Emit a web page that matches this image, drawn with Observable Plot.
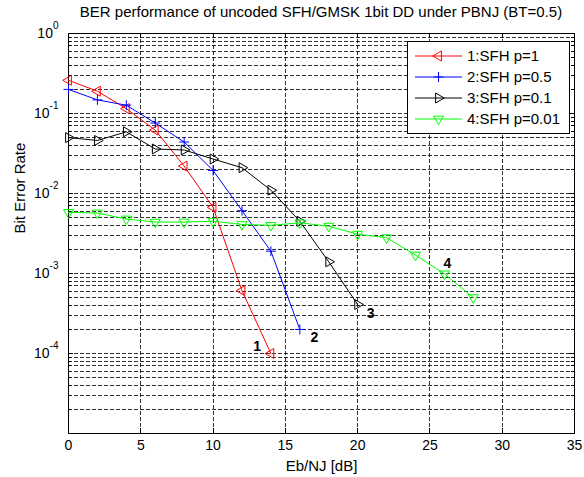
<!DOCTYPE html>
<html>
<head>
<meta charset="utf-8">
<script src="https://cdn.jsdelivr.net/npm/d3@7"></script>
<script src="https://cdn.jsdelivr.net/npm/@observablehq/plot@0.6"></script>
<style>
  html, body { margin: 0; padding: 0; background: #fff; }
  body { width: 584px; height: 477px; overflow: hidden; font-family: "Liberation Sans", Arial, sans-serif; }
  #title { width: 584px; height: 22px; line-height: 24px; font-size: 15px; color: #000; white-space: nowrap; }
  #title span { position: relative; left: 321px; transform: translateX(-50%); display: inline-block; }
  svg { display: block; }
</style>
</head>
<body>
<div id="title"><span>BER performance of uncoded SFH/GMSK 1bit DD under PBNJ (BT=0.5)</span></div>
<div id="chart"></div>
<script>
// ---- data ----
const xLabel = "Eb/NJ [dB]";
const yLabel = "Bit Error Rate";
const xTicks = [0, 5, 10, 15, 20, 25, 30, 35];
const yTickExponents = [0, -1, -2, -3, -4];

const seriesNames = ["1:SFH p=1", "2:SFH p=0.5", "3:SFH p=0.1", "4:SFH p=0.01"];
const seriesColors = ["#ff0000", "#0000ff", "#000000", "#00ff00"];

const ebnj1 = [0, 2, 4, 6, 8, 10, 12, 14];
const ber1 = [0.26, 0.19, 0.115, 0.062, 0.022, 0.0067, 0.00061, 0.0001];

const ebnj2 = [0, 2, 4, 6, 8, 10, 12, 14, 16];
const ber2 = [0.20, 0.148, 0.127, 0.076, 0.044, 0.0194, 0.0061, 0.0019, 0.0002];

const ebnj3 = [0, 2, 4, 6, 8, 10, 12, 14, 16, 18, 20];
const ber3 = [0.050, 0.046, 0.059, 0.036, 0.035, 0.027, 0.021, 0.011, 0.0045, 0.0014, 0.00041];

const ebnj4 = [0, 2, 4, 6, 8, 10, 12, 14, 16, 18, 20, 22, 24, 26, 28];
const ber4 = [0.0058, 0.0057, 0.0048, 0.0044, 0.0044, 0.0045, 0.0041, 0.0040, 0.0043, 0.0039, 0.0031, 0.0028, 0.0017, 0.00099, 0.0005];

const curveLabels = ["1", "2", "3", "4"];
const curveLabelX = [13.05, 17.0, 20.9, 26.2];
const curveLabelY = [1.23e-4, 1.6e-4, 3.2e-4, 1.32e-3];

// ---- build ----
const seriesX = [ebnj1, ebnj2, ebnj3, ebnj4];
const seriesY = [ber1, ber2, ber3, ber4];
const markerSymbol = ["triangle", "plus", "triangle", "triangle"];
const markerRotate = [-90, 0, 90, 180];
const markerR = [3.7, 3.3, 3.7, 3.7];

const series = seriesNames.map((name, i) => ({
  name, color: seriesColors[i],
  rows: seriesX[i].map((x, j) => ({ x, y: seriesY[i][j] }))
}));

const yMajor = yTickExponents.map(e => Math.pow(10, e));
const yMinor = [];
for (let k = -5; k <= -1; k++) for (let m = 2; m <= 9; m++) yMinor.push(m * Math.pow(10, k));
const gridY = [...yMajor.slice(1), ...yMinor];
const gridX = xTicks.slice(1, -1);

const W = 584, H = 455;
const mT = 11, mB = 44, mL = 68, mR = 10;
const fw = W - mL - mR, fh = H - mT - mB;
const FONT = "Liberation Sans, Arial, sans-serif";

const marks = [
  Plot.ruleY(gridY, { y: d => d, stroke: "#000", strokeWidth: 1, strokeDasharray: "4,2", strokeOpacity: 0.8, shapeRendering: "crispEdges" }),
  Plot.ruleX(gridX, { x: d => d, stroke: "#000", strokeWidth: 1, strokeDasharray: "4,2", strokeOpacity: 0.8, shapeRendering: "crispEdges" }),
  // inward tick marks (MATLAB style)
  Plot.tickX(gridX, { x: d => d, insetBottom: fh - 5, stroke: "#000", shapeRendering: "crispEdges" }),
  Plot.tickX(gridX, { x: d => d, insetTop: fh - 5, stroke: "#000", shapeRendering: "crispEdges" }),
  Plot.tickY(yMajor, { y: d => d, insetRight: fw - 5, stroke: "#000", shapeRendering: "crispEdges" }),
  Plot.tickY(yMajor, { y: d => d, insetLeft: fw - 5, stroke: "#000", shapeRendering: "crispEdges" }),
  Plot.tickY(yMinor, { y: d => d, insetRight: fw - 3, stroke: "#000", shapeRendering: "crispEdges" }),
  Plot.tickY(yMinor, { y: d => d, insetLeft: fw - 3, stroke: "#000", shapeRendering: "crispEdges" }),
  Plot.frame({ stroke: "#000", strokeWidth: 1, shapeRendering: "crispEdges" }),
  Plot.axisX(xTicks, { tickSize: 0, tickPadding: 7, fontSize: 14, label: null }),
  Plot.axisY(yMajor, { tickSize: 0, tickPadding: 10, fontSize: 14, label: null,
    tickFormat: d => "10^" + Math.round(Math.log10(d)) })
];

series.forEach((s, i) => {
  marks.push(Plot.line(s.rows, { x: "x", y: "y", stroke: s.color, strokeWidth: 1 }));
  marks.push(Plot.dot(s.rows, { x: "x", y: "y", symbol: markerSymbol[i], rotate: markerRotate[i],
    r: markerR[i], stroke: s.color, fill: "none", strokeWidth: 1 }));
});

marks.push(Plot.text(curveLabels, { x: (d, i) => curveLabelX[i], y: (d, i) => curveLabelY[i], text: d => d,
  fontWeight: "bold", fontSize: 14, fill: "#000" }));
marks.push(Plot.text([yLabel], { frameAnchor: "left", dx: -48, rotate: -90, text: d => d, fontSize: 15, fill: "#000", lineAnchor: "middle" }));
marks.push(Plot.text([xLabel], { frameAnchor: "bottom", dy: 33, text: d => d, fontSize: 15, fill: "#000", lineAnchor: "middle" }));

const fig = Plot.plot({
  width: W, height: H,
  marginTop: mT, marginBottom: mB, marginLeft: mL, marginRight: mR,
  style: { fontFamily: FONT, fontSize: "14px", background: "#fff", color: "#000", overflow: "visible" },
  x: { domain: [0, 35] },
  y: { type: "log", domain: [1e-5, 1] },
  marks
});

document.getElementById("chart").appendChild(fig);

// superscript exponents on the y tick labels
const svg = d3.select(fig);
svg.selectAll('g[aria-label="y-axis tick label"] text').each(function () {
  const t = d3.select(this);
  const s = t.text();
  const parts = s.split("^");
  t.text(null);
  t.append("tspan").text(parts[0]);
  t.append("tspan").attr("dy", -9).attr("font-size", 10).text(parts[1]);
});

// legend box (MATLAB style)
const lg = svg.append("g").attr("font-family", FONT).attr("font-size", 15).attr("text-anchor", "start");
const bx = 407.5, by = 19.5, bw = 162, bh = 92;
lg.append("rect").attr("x", bx).attr("y", by).attr("width", bw).attr("height", bh)
  .attr("fill", "#fff").attr("stroke", "#000").attr("shape-rendering", "crispEdges");
const symType = { triangle: d3.symbolTriangle, plus: d3.symbolPlus };
series.forEach((s, i) => {
  const yy = 34 + 21 * i;
  lg.append("line").attr("x1", 415).attr("x2", 462).attr("y1", yy).attr("y2", yy).attr("stroke", s.color);
  lg.append("path")
    .attr("d", d3.symbol(symType[markerSymbol[i]], Math.PI * markerR[i] * markerR[i])())
    .attr("transform", `translate(438.5,${yy}) rotate(${markerRotate[i]})`)
    .attr("fill", "none").attr("stroke", s.color);
  lg.append("text").attr("x", 467).attr("y", yy).attr("dy", "0.35em").attr("text-anchor", "start")
    .attr("fill", "#000").text(s.name);
});
</script>
</body>
</html>
